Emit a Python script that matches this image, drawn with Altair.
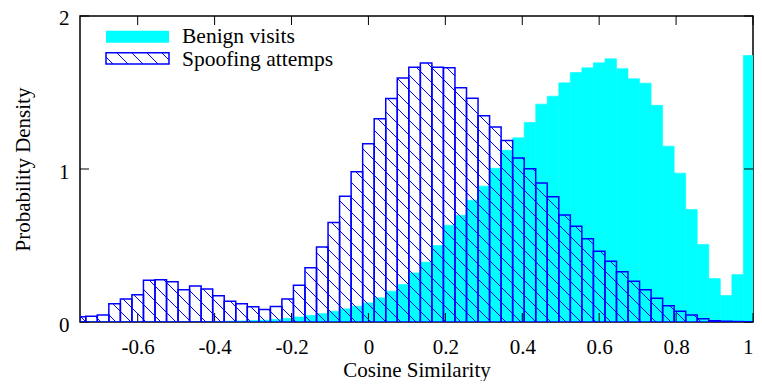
import altair as alt
import pandas as pd

# ---------------- data ----------------
# histogram bins: bin k is centred on k * BIN_WIDTH
BIN_WIDTH = 0.03
bin_index = list(range(-25, 34))

benign_visits = [
    0, 0, 0, 0, 0, 0, 0, 0, 0, 0, 0, 0,
    0.003, 0.005, 0.007, 0.010, 0.012, 0.017, 0.024, 0.033, 0.043, 0.055,
    0.070, 0.086, 0.103, 0.125, 0.158, 0.201, 0.245, 0.321, 0.391, 0.500,
    0.633, 0.698, 0.796, 0.888, 1.005, 1.122, 1.204, 1.304, 1.424, 1.476,
    1.563, 1.630, 1.661, 1.694, 1.720, 1.656, 1.590, 1.561, 1.416, 1.149,
    0.973, 0.735, 0.507, 0.284, 0.173, 0.310, 1.742,
]

spoofing_attempts = [
    0.034, 0.038, 0.045, 0.119, 0.151, 0.178, 0.273, 0.276, 0.263, 0.210,
    0.236, 0.215, 0.171, 0.136, 0.119, 0.099, 0.082, 0.101, 0.151, 0.241,
    0.354, 0.491, 0.650, 0.822, 0.982, 1.165, 1.328, 1.461, 1.594, 1.665,
    1.692, 1.665, 1.661, 1.531, 1.463, 1.348, 1.274, 1.186, 1.072, 1.001,
    0.908, 0.818, 0.700, 0.626, 0.544, 0.463, 0.397, 0.328, 0.267, 0.211,
    0.156, 0.106, 0.071, 0.045, 0.021, 0.008, 0.005, 0.003, 0.002,
]

series_names = ["Benign visits", "Spoofing attemps"]
x_ticks = [-0.6, -0.4, -0.2, 0, 0.2, 0.4, 0.6, 0.8, 1]
y_ticks = [0, 1, 2]
x_title = "Cosine Similarity"
y_title = "Probability Density"

# ---------------- layout / style ----------------
X_MIN, X_MAX = -0.75, 1.0
Y_MIN, Y_MAX = 0, 2
W, H = 673, 306
PAD = {"left": 72, "top": 8, "right": 1, "bottom": 59}
FONT = "Liberation Serif"
CYAN = "#00ffff"
BLUE = "#0000ff"
TICK = 9
HATCH_STEP = 15.0

sx = W / (X_MAX - X_MIN)
sy = H / (Y_MAX - Y_MIN)

rows = []
for k, b, s in zip(bin_index, benign_visits, spoofing_attempts):
    lo = max(k * BIN_WIDTH - BIN_WIDTH / 2, X_MIN)
    hi = min(k * BIN_WIDTH + BIN_WIDTH / 2, X_MAX)
    rows.append({"x0": lo, "x1": hi, "benign": b, "spoof": s})
bars = pd.DataFrame(rows)


def hatch(x0, x1, h):
    """diagonal '\\' hatch lines clipped to one bar, returned in data units"""
    X0, X1 = (x0 - X_MIN) * sx, (x1 - X_MIN) * sx
    Yt, Yb = (Y_MAX - h) * sy, (Y_MAX - Y_MIN) * sy
    segs = []
    n0 = int((Yt - X1) // HATCH_STEP) - 1
    n1 = int((Yb - X0) // HATCH_STEP) + 1
    for n in range(n0, n1 + 1):
        c = n * HATCH_STEP
        u0 = max(X0, Yt - c)
        u1 = min(X1, Yb - c)
        if u1 - u0 > 0.3:
            segs.append({
                "hx": u0 / sx + X_MIN, "hy": Y_MAX - (u0 + c) / sy,
                "hx2": u1 / sx + X_MIN, "hy2": Y_MAX - (u1 + c) / sy,
            })
    return segs


hatch_rows = []
for r in rows:
    if r["spoof"] > 0:
        hatch_rows += hatch(r["x0"], r["x1"], r["spoof"])
hatch_df = pd.DataFrame(hatch_rows)

xs = alt.Scale(domain=[X_MIN, X_MAX], nice=False, zero=False)
ys = alt.Scale(domain=[Y_MIN, Y_MAX], nice=False, zero=False)

HYPHEN = "replace(datum.label, '\u2212', '-')"
x_axis = alt.Axis(values=x_ticks, format="~g", labelExpr=HYPHEN, title=x_title, labelPadding=31,
                  labelBaseline="alphabetic", titleY=54, titleBaseline="alphabetic",
                  labelFlush=True, labelOverlap=False)
y_axis = alt.Axis(values=y_ticks, format="~g", title=y_title, labelPadding=11,
                  labelOffset={"condition": {"test": "datum.value >= 2", "value": 2}, "value": 3},
                  titleX=-51, titleY=H / 2, titleAngle=-90, titleAlign="center",
                  titleBaseline="alphabetic", labelOverlap=False)


def X(field):
    return alt.X(field, scale=xs, axis=x_axis)


def Y(field):
    return alt.Y(field, scale=ys, axis=y_axis)


base = alt.Chart(bars)

cyan_bars = base.mark_rect(color=CYAN, stroke=CYAN, strokeWidth=0.6, clip=True).encode(
    x=X("x0:Q"), x2="x1:Q", y=Y("benign:Q"), y2=alt.datum(0),
)

spoof_bars = base.mark_rect(filled=False, stroke=BLUE, strokeWidth=1.5, clip=True).encode(
    x=X("x0:Q"), x2="x1:Q", y=Y("spoof:Q"), y2=alt.datum(0),
)

hatch_lines = alt.Chart(hatch_df).mark_rule(color=BLUE, strokeWidth=1, clip=True).encode(
    x=X("hx:Q"), y=Y("hy:Q"), x2="hx2:Q", y2="hy2:Q",
)

xt = alt.Chart(pd.DataFrame({"t": x_ticks}))
yt = alt.Chart(pd.DataFrame({"t": y_ticks}))
tick_style = dict(color="black", strokeWidth=1)
ticks = [
    xt.mark_rule(**tick_style).encode(x=X("t:Q"), y=alt.value(H), y2=alt.value(H - TICK)),
    xt.mark_rule(**tick_style).encode(x=X("t:Q"), y=alt.value(0), y2=alt.value(TICK)),
    yt.mark_rule(**tick_style).encode(y=Y("t:Q"), x=alt.value(0), x2=alt.value(TICK)),
    yt.mark_rule(**tick_style).encode(y=Y("t:Q"), x=alt.value(W), x2=alt.value(W - TICK)),
]

# ---------------- manual legend (pixel layout) ----------------
one = alt.Chart(pd.DataFrame({"a": [0]}))
LX0, LX1 = 26.0, 89.0
BOX1 = (14.7, 26.7)
BOX2 = (36.7, 48.0)
legend = [
    one.mark_rect(color=CYAN).encode(x=alt.value(LX0), x2=alt.value(LX1), y=alt.value(BOX1[0]), y2=alt.value(BOX1[1])),
    one.mark_rect(filled=False, stroke=BLUE, strokeWidth=1.5).encode(
        x=alt.value(LX0), x2=alt.value(LX1), y=alt.value(BOX2[0]), y2=alt.value(BOX2[1])),
    one.mark_text(text=series_names[0], align="left", baseline="alphabetic", font=FONT, fontSize=21.5, color="black")
       .encode(x=alt.value(102), y=alt.value(27.4)),
    one.mark_text(text=series_names[1], align="left", baseline="alphabetic", font=FONT, fontSize=21.5, color="black")
       .encode(x=alt.value(102), y=alt.value(50.2)),
]
# hatch inside legend box
bx0, bx1, by0, by1 = LX0, LX1, BOX2[0], BOX2[1]
c = -60.0
while c < by1 - bx0:
    u0 = max(bx0, by0 - c)
    u1 = min(bx1, by1 - c)
    if u1 - u0 > 0.5:
        legend.append(one.mark_rule(color=BLUE, strokeWidth=1).encode(
            x=alt.value(u0), y=alt.value(u0 + c), x2=alt.value(u1), y2=alt.value(u1 + c)))
    c += HATCH_STEP

chart = alt.layer(cyan_bars, *ticks, hatch_lines, spoof_bars, *legend).properties(
    width=W, height=H,
    autosize=alt.AutoSizeParams(type="none"),
    padding=PAD,
    background="white",
).configure_view(stroke="black", strokeWidth=1.5).configure_axis(
    grid=False, ticks=False, tickSize=0, domain=False,
    labelFont=FONT, labelFontSize=21, labelColor="black",
    titleFont=FONT, titleFontSize=21, titleFontWeight="normal", titleColor="black",
)

chart.save("out.html", embed_options={"renderer": "svg", "actions": False})
